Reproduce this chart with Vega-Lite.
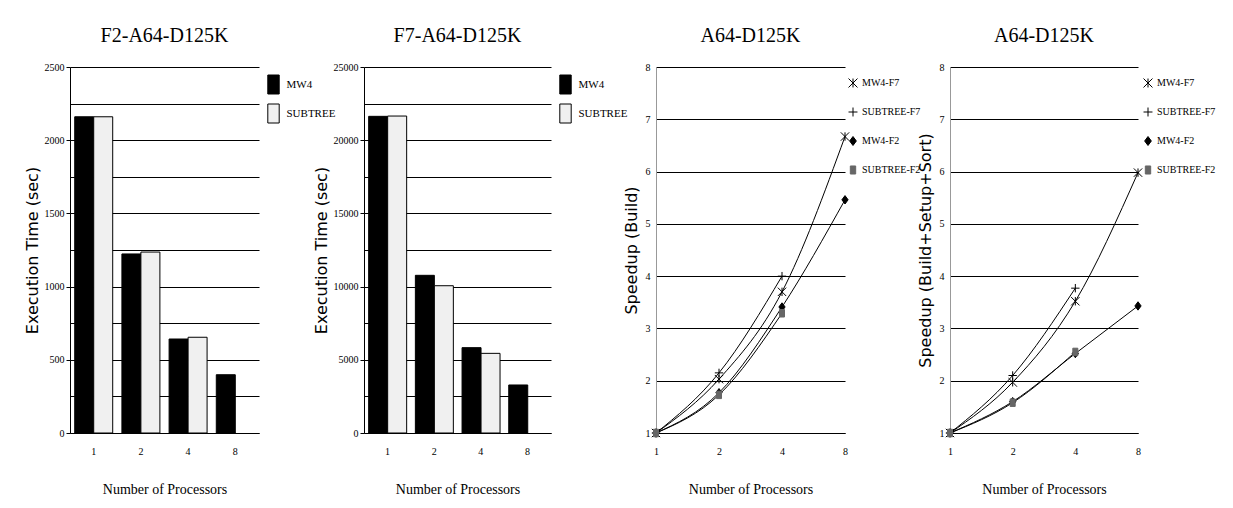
{
  "$schema": "https://vega.github.io/schema/vega-lite/v6.json",
  "background": "white",
  "padding": {"left": 24, "top": 26, "right": 5, "bottom": 5},
  "bounds": "flush",
  "spacing": 105,
  "resolve": {"scale": {"color": "independent", "shape": "independent", "fill": "independent", "stroke": "independent"}, "legend": {"color": "independent", "shape": "independent", "fill": "independent", "stroke": "independent"}},
  "config": {
    "font": "Liberation Serif",
    "view": {"stroke": null},
    "title": {"font": "Liberation Serif", "fontSize": 20, "fontWeight": "normal", "color": "black", "offset": 16},
    "axis": {"labelFont": "Liberation Serif", "labelFontSize": 10, "labelColor": "black", "titleColor": "black", "domainColor": "black", "tickColor": "black", "gridColor": "black", "gridOpacity": 1, "gridWidth": 1},
    "axisX": {"titleFont": "Liberation Serif", "titleFontSize": 14, "titleFontWeight": "normal", "labelAngle": 0, "ticks": false, "labelPadding": 13, "titlePadding": 26, "grid": false},
    "axisY": {"titleFont": "DejaVu Sans", "titleFontSize": 16, "titleFontWeight": "normal", "tickSize": 4, "labelPadding": 2, "titlePadding": 4},
    "legend": {"labelFont": "Liberation Serif", "labelFontSize": 10, "labelColor": "black"}
  },
  "datasets": {
    "bars1": [
      {"procs": 1, "method": "MW4", "time": 2160},
      {"procs": 1, "method": "SUBTREE", "time": 2160},
      {"procs": 2, "method": "MW4", "time": 1223},
      {"procs": 2, "method": "SUBTREE", "time": 1236},
      {"procs": 4, "method": "MW4", "time": 642},
      {"procs": 4, "method": "SUBTREE", "time": 654},
      {"procs": 8, "method": "MW4", "time": 398}
    ],
    "bars2": [
      {"procs": 1, "method": "MW4", "time": 21630},
      {"procs": 1, "method": "SUBTREE", "time": 21650},
      {"procs": 2, "method": "MW4", "time": 10770},
      {"procs": 2, "method": "SUBTREE", "time": 10060},
      {"procs": 4, "method": "MW4", "time": 5830},
      {"procs": 4, "method": "SUBTREE", "time": 5440},
      {"procs": 8, "method": "MW4", "time": 3280}
    ],
    "speed1": [
      {"procs": 1, "series": "MW4-F7", "speedup": 1},
      {"procs": 2, "series": "MW4-F7", "speedup": 2.03},
      {"procs": 4, "series": "MW4-F7", "speedup": 3.7},
      {"procs": 8, "series": "MW4-F7", "speedup": 6.67},
      {"procs": 1, "series": "SUBTREE-F7", "speedup": 1},
      {"procs": 2, "series": "SUBTREE-F7", "speedup": 2.15},
      {"procs": 4, "series": "SUBTREE-F7", "speedup": 4.0},
      {"procs": 1, "series": "MW4-F2", "speedup": 1},
      {"procs": 2, "series": "MW4-F2", "speedup": 1.77},
      {"procs": 4, "series": "MW4-F2", "speedup": 3.41},
      {"procs": 8, "series": "MW4-F2", "speedup": 5.46},
      {"procs": 1, "series": "SUBTREE-F2", "speedup": 1},
      {"procs": 2, "series": "SUBTREE-F2", "speedup": 1.73},
      {"procs": 4, "series": "SUBTREE-F2", "speedup": 3.29}
    ],
    "speed2": [
      {"procs": 1, "series": "MW4-F7", "speedup": 1},
      {"procs": 2, "series": "MW4-F7", "speedup": 1.97},
      {"procs": 4, "series": "MW4-F7", "speedup": 3.52},
      {"procs": 8, "series": "MW4-F7", "speedup": 5.98},
      {"procs": 1, "series": "SUBTREE-F7", "speedup": 1},
      {"procs": 2, "series": "SUBTREE-F7", "speedup": 2.1},
      {"procs": 4, "series": "SUBTREE-F7", "speedup": 3.77},
      {"procs": 1, "series": "MW4-F2", "speedup": 1},
      {"procs": 2, "series": "MW4-F2", "speedup": 1.6},
      {"procs": 4, "series": "MW4-F2", "speedup": 2.52},
      {"procs": 8, "series": "MW4-F2", "speedup": 3.43},
      {"procs": 1, "series": "SUBTREE-F2", "speedup": 1},
      {"procs": 2, "series": "SUBTREE-F2", "speedup": 1.58},
      {"procs": 4, "series": "SUBTREE-F2", "speedup": 2.55}
    ]
  },
  "hconcat": [
    {
      "width": 189, "height": 366,
      "title": "F2-A64-D125K",
      "data": {"name": "bars1"},
      "mark": {"type": "bar", "stroke": "black", "strokeWidth": 1},
      "encoding": {
        "x": {"field": "procs", "type": "ordinal", "scale": {"paddingInner": 0.195, "paddingOuter": 0.1}, "axis": {"title": "Number of Processors"}},
        "xOffset": {"field": "method", "type": "nominal", "scale": {"domain": ["MW4", "SUBTREE"], "paddingInner": 0, "paddingOuter": 0}},
        "y": {"field": "time", "type": "quantitative", "scale": {"domain": [0, 2500], "nice": false},
          "axis": {"title": "Execution Time (sec)", "grid": true, "format": "d", "values": [0, 250, 500, 750, 1000, 1250, 1500, 1750, 2000, 2250, 2500],
            "labelExpr": "datum.value % 500 === 0 ? datum.label : ''",
            "tickOpacity": {"condition": {"test": "datum.value % 500 === 0", "value": 1}, "value": 0}}},
        "color": {"field": "method", "type": "nominal", "scale": {"domain": ["MW4", "SUBTREE"], "range": ["#000000", "#f0f0f0"]},
          "legend": {"title": null, "orient": "right", "offset": -3.5, "padding": 7.5, "labelFontSize": 11, "symbolType": "M-0.6,-1H0.6V1H-0.6Z", "symbolSize": 361, "symbolStrokeWidth": 1, "rowPadding": 5, "labelOffset": 3}}
      }
    },
    {
      "width": 187, "height": 366,
      "title": "F7-A64-D125K",
      "data": {"name": "bars2"},
      "mark": {"type": "bar", "stroke": "black", "strokeWidth": 1},
      "encoding": {
        "x": {"field": "procs", "type": "ordinal", "scale": {"paddingInner": 0.195, "paddingOuter": 0.1}, "axis": {"title": "Number of Processors"}},
        "xOffset": {"field": "method", "type": "nominal", "scale": {"domain": ["MW4", "SUBTREE"], "paddingInner": 0, "paddingOuter": 0}},
        "y": {"field": "time", "type": "quantitative", "scale": {"domain": [0, 25000], "nice": false},
          "axis": {"title": "Execution Time (sec)", "grid": true, "format": "d", "values": [0, 2500, 5000, 7500, 10000, 12500, 15000, 17500, 20000, 22500, 25000],
            "labelExpr": "datum.value % 5000 === 0 ? datum.label : ''",
            "tickOpacity": {"condition": {"test": "datum.value % 5000 === 0", "value": 1}, "value": 0}}},
        "color": {"field": "method", "type": "nominal", "scale": {"domain": ["MW4", "SUBTREE"], "range": ["#000000", "#f0f0f0"]},
          "legend": {"title": null, "orient": "right", "offset": -3.5, "padding": 7.5, "labelFontSize": 11, "symbolType": "M-0.6,-1H0.6V1H-0.6Z", "symbolSize": 361, "symbolStrokeWidth": 1, "rowPadding": 5, "labelOffset": 3}}
      }
    },
    {
      "width": 189, "height": 366,
      "title": "A64-D125K",
      "data": {"name": "speed1"},
      "encoding": {
        "x": {"field": "procs", "type": "ordinal", "scale": {"type": "point", "padding": 0}, "axis": {"title": "Number of Processors"}},
        "y": {"field": "speedup", "type": "quantitative", "scale": {"domain": [1, 8], "nice": false},
          "axis": {"title": "Speedup (Build)", "grid": true, "values": [1, 2, 3, 4, 5, 6, 7, 8], "tickSize": 0, "labelPadding": 6, "titlePadding": 6, "domainColor": "#999999"}}
      },
      "layer": [
        {"mark": {"type": "line", "interpolate": "monotone", "color": "black", "strokeWidth": 1},
         "encoding": {"detail": {"field": "series", "type": "nominal"}}},
        {"mark": {"type": "point", "filled": true, "strokeWidth": 1, "opacity": 1, "size": 70},
         "encoding": {
           "shape": {"field": "series", "type": "nominal", "scale": {"domain": ["MW4-F7", "SUBTREE-F7", "MW4-F2", "SUBTREE-F2"], "range": ["M-1,-1L1,1M-1,1L1,-1M0,-1L0,1", "M-1,0L1,0M0,-1L0,1", "M0,-1L0.75,0L0,1L-0.75,0Z", "M-0.6,-0.9L0.6,-0.9L0.6,0.9L-0.6,0.9Z"]},
             "legend": {"title": null, "orient": "right", "offset": -10, "padding": 11, "symbolSize": 80, "symbolStrokeWidth": 1, "rowPadding": 15, "labelOffset": 4}},
           "fill": {"field": "series", "type": "nominal", "scale": {"domain": ["MW4-F7", "SUBTREE-F7", "MW4-F2", "SUBTREE-F2"], "range": ["#000000", "#000000", "#000000", "#666666"]},
             "legend": {"title": null, "orient": "right", "offset": -10, "padding": 11, "symbolSize": 80, "symbolStrokeWidth": 1, "rowPadding": 15, "labelOffset": 4}},
           "stroke": {"field": "series", "type": "nominal", "scale": {"domain": ["MW4-F7", "SUBTREE-F7", "MW4-F2", "SUBTREE-F2"], "range": ["#000000", "#000000", "#000000", "#666666"]},
             "legend": {"title": null, "orient": "right", "offset": -10, "padding": 11, "symbolSize": 80, "symbolStrokeWidth": 1, "rowPadding": 15, "labelOffset": 4}}
         }}
      ]
    },
    {
      "width": 188, "height": 366,
      "title": "A64-D125K",
      "data": {"name": "speed2"},
      "encoding": {
        "x": {"field": "procs", "type": "ordinal", "scale": {"type": "point", "padding": 0}, "axis": {"title": "Number of Processors"}},
        "y": {"field": "speedup", "type": "quantitative", "scale": {"domain": [1, 8], "nice": false},
          "axis": {"title": "Speedup (Build+Setup+Sort)", "grid": true, "values": [1, 2, 3, 4, 5, 6, 7, 8], "tickSize": 0, "labelPadding": 6, "titlePadding": 6, "domainColor": "#999999"}}
      },
      "layer": [
        {"mark": {"type": "line", "interpolate": "monotone", "color": "black", "strokeWidth": 1},
         "encoding": {"detail": {"field": "series", "type": "nominal"}}},
        {"mark": {"type": "point", "filled": true, "strokeWidth": 1, "opacity": 1, "size": 70},
         "encoding": {
           "shape": {"field": "series", "type": "nominal", "scale": {"domain": ["MW4-F7", "SUBTREE-F7", "MW4-F2", "SUBTREE-F2"], "range": ["M-1,-1L1,1M-1,1L1,-1M0,-1L0,1", "M-1,0L1,0M0,-1L0,1", "M0,-1L0.75,0L0,1L-0.75,0Z", "M-0.6,-0.9L0.6,-0.9L0.6,0.9L-0.6,0.9Z"]},
             "legend": {"title": null, "orient": "right", "offset": -8, "padding": 11, "symbolSize": 80, "symbolStrokeWidth": 1, "rowPadding": 15, "labelOffset": 4}},
           "fill": {"field": "series", "type": "nominal", "scale": {"domain": ["MW4-F7", "SUBTREE-F7", "MW4-F2", "SUBTREE-F2"], "range": ["#000000", "#000000", "#000000", "#666666"]},
             "legend": {"title": null, "orient": "right", "offset": -8, "padding": 11, "symbolSize": 80, "symbolStrokeWidth": 1, "rowPadding": 15, "labelOffset": 4}},
           "stroke": {"field": "series", "type": "nominal", "scale": {"domain": ["MW4-F7", "SUBTREE-F7", "MW4-F2", "SUBTREE-F2"], "range": ["#000000", "#000000", "#000000", "#666666"]},
             "legend": {"title": null, "orient": "right", "offset": -8, "padding": 11, "symbolSize": 80, "symbolStrokeWidth": 1, "rowPadding": 15, "labelOffset": 4}}
         }}
      ]
    }
  ]
}
